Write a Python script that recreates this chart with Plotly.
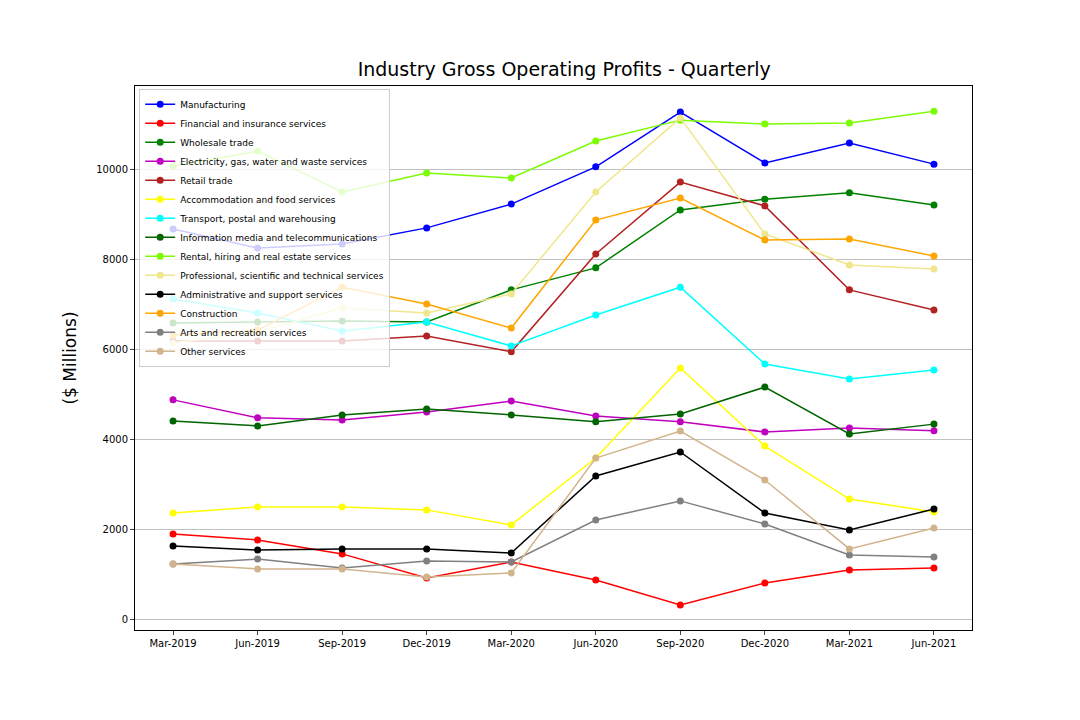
import plotly.graph_objects as go

quarters = ["Mar-2019","Jun-2019","Sep-2019","Dec-2019","Mar-2020","Jun-2020","Sep-2020","Dec-2020","Mar-2021","Jun-2021"]
y_ticks = [0, 2000, 4000, 6000, 8000, 10000]
y_tick_labels = ["0", "2000", "4000", "6000", "8000", "10000"]

manufacturing = [8685,8260,8350,8710,9240,10070,11290,10155,10600,10130]
financial = [1895,1760,1450,915,1270,870,310,800,1090,1135]
wholesale = [6590,6615,6635,6615,7330,7820,9110,9350,9490,9220]
electricity = [4880,4480,4430,4610,4855,4520,4390,4165,4255,4190]
retail = [6190,6190,6190,6300,5950,8130,9730,9200,7330,6880]
accommodation = [2360,2495,2495,2430,2095,3585,5590,3850,2670,2385]
transport = [7125,6815,6415,6615,6080,6770,7390,5680,5345,5545]
info_media = [4410,4300,4545,4675,4545,4390,4565,5165,4120,4340]
rental = [10090,10420,9510,9930,9820,10645,11110,11025,11045,11310]
professional = [6145,6390,6925,6815,7240,9510,11160,8575,7885,7795]
admin = [1625,1535,1560,1560,1470,3185,3720,2360,1980,2450]
construction = [6325,6435,7390,7015,6480,8885,9375,8440,8460,8085]
arts = [1225,1335,1135,1290,1270,2205,2630,2115,1425,1380]
other = [1225,1115,1115,935,1025,3585,4185,3095,1560,2025]

series = [
    ("Manufacturing", manufacturing, "#0000ff"),
    ("Financial and insurance services", financial, "#ff0000"),
    ("Wholesale trade", wholesale, "#008000"),
    ("Electricity, gas, water and waste services", electricity, "#bf00bf"),
    ("Retail trade", retail, "#b22222"),
    ("Accommodation and food services", accommodation, "#ffff00"),
    ("Transport, postal and warehousing", transport, "#00ffff"),
    ("Information media and telecommunications", info_media, "#006400"),
    ("Rental, hiring and real estate services", rental, "#7cfc00"),
    ("Professional, scientific and technical services", professional, "#f0e68c"),
    ("Administrative and support services", admin, "#000000"),
    ("Construction", construction, "#ffa500"),
    ("Arts and recreation services", arts, "#808080"),
    ("Other services", other, "#d2b48c"),
]

xs = list(range(len(quarters)))
fig = go.Figure()
for name, vals, col in series:
    fig.add_trace(go.Scatter(x=xs, y=vals, name=name, mode="lines+markers",
                             line=dict(color=col, width=1.5), marker=dict(color=col, size=7)))

fig.update_layout(
    width=1080, height=720, plot_bgcolor="white", paper_bgcolor="white",
    margin=dict(l=127, r=116, t=78, b=98),
    font=dict(family="DejaVu Sans", color="black", size=10),
    title=dict(text="Industry Gross Operating Profits - Quarterly", x=0.515, xanchor="center",
               y=0.905, yanchor="bottom", font=dict(size=19)),
    legend=dict(x=0.005, y=0.995, xanchor="left", yanchor="top", bgcolor="rgba(255,255,255,0.8)",
                bordercolor="#cccccc", borderwidth=1, font=dict(size=9), tracegroupgap=0, itemwidth=30),
    showlegend=True,
)
fig.update_xaxes(range=[-0.45, 9.45], tickvals=xs, ticktext=quarters, showgrid=False,
                 showline=True, linecolor="black", mirror=True, ticks="outside", ticklen=4, zeroline=False)
fig.update_yaxes(range=[-245, 11870], tickvals=y_ticks, ticktext=y_tick_labels, showgrid=True,
                 gridcolor="#c0c0c0", showline=True, linecolor="black", mirror=True,
                 ticks="outside", ticklen=4, zeroline=False,
                 title=dict(text="($ Millions)", font=dict(size=17)))
fig.write_html("out.html")
